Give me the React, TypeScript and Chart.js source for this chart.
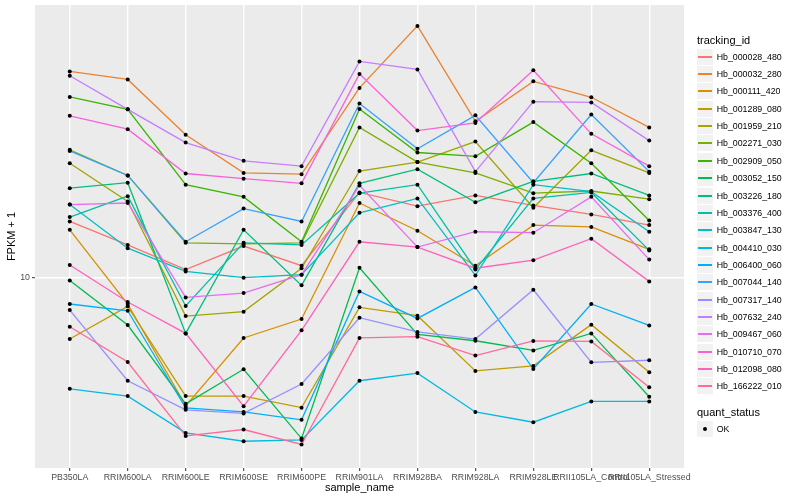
import React, { useEffect, useRef } from "react";
import { Chart, registerables } from "chart.js";

Chart.register(...registerables);

const sampleNames = [
  "PB350LA", "RRIM600LA", "RRIM600LE", "RRIM600SE", "RRIM600PE", "RRIM901LA",
  "RRIM928BA", "RRIM928LA", "RRIM928LE", "RRII105LA_Control", "RRII105LA_Stressed",
];

const trackingIds = [
  "Hb_000028_480", "Hb_000032_280", "Hb_000111_420", "Hb_001289_080", "Hb_001959_210",
  "Hb_002271_030", "Hb_002909_050", "Hb_003052_150", "Hb_003226_180", "Hb_003376_400",
  "Hb_003847_130", "Hb_004410_030", "Hb_006400_060", "Hb_007044_140", "Hb_007317_140",
  "Hb_007632_240", "Hb_009467_060", "Hb_010710_070", "Hb_012098_080", "Hb_166222_010",
];

// FPKM + 1 per sample (order of sampleNames)
const hb_000028_480 = [15.1, 12.7, 10.6, 12.6, 10.9, 18.7, 16.9, 18.3, 17.0, 15.9, 14.7];
const hb_000032_280 = [45.6, 43.0, 28.6, 21.6, 21.4, 40.4, 63.8, 31.6, 42.4, 37.7, 30.2];
const hb_000111_420 = [14.2, 8.22, 3.88, 6.40, 7.36, 17.3, 14.1, 10.9, 14.7, 14.5, 12.3];
const hb_001289_080 = [6.35, 8.08, 4.17, 4.17, 3.83, 8.02, 7.54, 5.02, 5.21, 7.06, 4.97];
const hb_001959_210 = [23.2, 17.5, 7.52, 7.77, 10.7, 21.9, 23.4, 27.2, 16.7, 25.5, 21.6];
const hb_002271_030 = [25.6, 21.2, 12.9, 12.8, 12.9, 30.2, 23.4, 21.6, 18.6, 18.9, 17.8];
const hb_002909_050 = [37.8, 34.5, 19.8, 18.1, 13.0, 34.6, 25.1, 24.4, 31.4, 23.2, 15.2];
const hb_003052_150 = [9.78, 7.04, 3.94, 5.08, 3.05, 10.74, 6.57, 6.27, 5.84, 6.62, 4.15];
const hb_003226_180 = [19.3, 20.1, 6.62, 14.2, 9.43, 20.0, 22.2, 17.4, 20.3, 21.5, 18.3];
const hb_003376_400 = [15.6, 18.2, 8.10, 12.9, 12.7, 18.6, 19.8, 10.6, 17.9, 18.7, 12.2];
const hb_003847_130 = [17.1, 12.4, 10.45, 9.98, 10.2, 16.1, 17.9, 10.15, 19.8, 18.8, 14.0];
const hb_004410_030 = [4.40, 4.17, 3.18, 2.99, 3.02, 4.67, 4.94, 3.71, 3.44, 4.01, 4.01];
const hb_006400_060 = [8.22, 7.82, 3.82, 3.71, 3.50, 9.02, 7.39, 9.29, 5.09, 8.22, 7.02];
const hb_007044_140 = [25.4, 21.2, 13.0, 16.6, 15.1, 36.0, 25.8, 33.0, 20.1, 33.2, 21.8];
const hb_007317_140 = [7.86, 4.67, 3.77, 3.67, 4.56, 7.43, 6.69, 6.35, 9.13, 5.35, 5.43];
const hb_007632_240 = [44.2, 34.5, 27.0, 23.6, 22.7, 49.1, 46.3, 21.8, 36.5, 36.3, 27.4];
const hb_009467_060 = [17.1, 17.3, 8.63, 8.91, 10.2, 19.7, 12.5, 14.0, 13.9, 18.1, 11.4];
const hb_010710_070 = [32.9, 29.8, 21.5, 20.7, 20.0, 44.8, 29.5, 31.2, 46.0, 28.8, 22.7];
const hb_012098_080 = [10.96, 8.34, 6.62, 3.87, 6.77, 13.0, 12.5, 10.7, 11.35, 13.3, 9.71];
const hb_166222_010 = [6.95, 5.36, 3.11, 3.26, 2.92, 6.40, 6.46, 5.62, 6.26, 6.24, 4.45];

const seriesValues = [
  hb_000028_480, hb_000032_280, hb_000111_420, hb_001289_080, hb_001959_210,
  hb_002271_030, hb_002909_050, hb_003052_150, hb_003226_180, hb_003376_400,
  hb_003847_130, hb_004410_030, hb_006400_060, hb_007044_140, hb_007317_140,
  hb_007632_240, hb_009467_060, hb_010710_070, hb_012098_080, hb_166222_010,
];

const yTickValues = [10];
const yMin = 2.455;
const yMax = 74.42;

const quantStatus = ["OK"];

const palette = [
  "#F8766D", "#EA8331", "#D89000", "#C09B00", "#A3A500",
  "#7CAE00", "#39B600", "#00BB4E", "#00BF7D", "#00C1A3",
  "#00BFC4", "#00BAE0", "#00B0F6", "#35A2FF", "#9590FF",
  "#C77CFF", "#E76BF3", "#FA62DB", "#FF62BC", "#FF6A98",
];

const FONT = "'Liberation Sans', Arial, Helvetica, sans-serif";

const panelBg = {
  id: "panelBg",
  beforeDraw(chart: any) {
    const { ctx, chartArea } = chart;
    ctx.save();
    ctx.fillStyle = "#EBEBEB";
    ctx.fillRect(chartArea.left, chartArea.top, chartArea.right - chartArea.left, chartArea.bottom - chartArea.top);
    ctx.restore();
  },
};

const pointsOnTop = {
  id: "pointsOnTop",
  afterDatasetsDraw(chart: any) {
    const { ctx } = chart;
    ctx.save();
    ctx.fillStyle = "#000000";
    chart.data.datasets.forEach((_: any, i: number) => {
      const meta = chart.getDatasetMeta(i);
      meta.data.forEach((el: any) => {
        ctx.beginPath();
        ctx.arc(el.x, el.y, 2.0, 0, Math.PI * 2);
        ctx.fill();
      });
    });
    ctx.restore();
  },
};

export default function App() {
  const canvasRef = useRef<HTMLCanvasElement | null>(null);

  useEffect(() => {
    if (!canvasRef.current) return;
    const n = seriesValues.length;
    const chart = new Chart(canvasRef.current, {
      type: "line",
      data: {
        datasets: seriesValues.map((vals, i) => ({
          label: trackingIds[i],
          data: vals.map((v, k) => ({ x: k, y: v })),
          borderColor: palette[i],
          backgroundColor: palette[i],
          borderWidth: 1.3,
          pointRadius: 0,
          pointHoverRadius: 0,
          tension: 0,
          fill: false,
          order: n - i,
        })),
      },
      options: {
        animation: false,
        responsive: false,
        devicePixelRatio: 1,
        events: [],
        layout: { padding: { top: 5, right: 116, bottom: 0, left: 0 } },
        plugins: { legend: { display: false }, tooltip: { enabled: false }, title: { display: false } },
        scales: {
          x: {
            type: "linear",
            min: -0.6,
            max: sampleNames.length - 1 + 0.6,
            afterBuildTicks: (s: any) => {
              s.ticks = sampleNames.map((_, i) => ({ value: i }));
            },
            afterFit: (s: any) => {
              s.height = 32;
              s.paddingLeft = 0;
              s.paddingRight = 0;
            },
            ticks: {
              autoSkip: false,
              maxRotation: 0,
              minRotation: 0,
              padding: 1,
              color: "#4D4D4D",
              font: { family: FONT, size: 8.8 },
              callback: (v: any) => sampleNames[v as number] ?? "",
            },
            grid: { color: "#FFFFFF", lineWidth: 1.4, tickLength: 3, tickColor: "#333333", tickWidth: 1 },
            border: { display: false },
            title: {
              display: true,
              text: "sample_name",
              color: "#000000",
              font: { family: FONT, size: 11 },
              padding: { top: 0, bottom: 5.4 },
            },
          },
          y: {
            type: "logarithmic",
            min: yMin,
            max: yMax,
            afterBuildTicks: (s: any) => {
              s.ticks = yTickValues.map((v) => ({ value: v }));
            },
            afterFit: (s: any) => {
              s.width = 35;
              s.paddingTop = 0;
              s.paddingBottom = 0;
            },
            ticks: {
              padding: 2,
              color: "#4D4D4D",
              font: { family: FONT, size: 8.8 },
              callback: (v: any) => String(v),
            },
            grid: { color: "#FFFFFF", lineWidth: 1.4, tickLength: 3, tickColor: "#333333", tickWidth: 1 },
            border: { display: false },
            title: {
              display: true,
              text: "FPKM + 1",
              color: "#000000",
              font: { family: FONT, size: 11 },
              padding: { top: 5.4, bottom: 0 },
            },
          },
        },
      },
      plugins: [panelBg, pointsOnTop],
    } as any);
    return () => chart.destroy();
  }, []);

  const legendLeft = 697;
  const firstKeyCenter = 56.7;
  const keyStep = 17.35;
  const keySize = 17;

  return (
    <div style={{ position: "absolute", left: 0, top: 0, width: 800, height: 500, background: "#FFFFFF", fontFamily: FONT }}>
      <canvas ref={canvasRef} width={800} height={500} style={{ position: "absolute", left: 0, top: 0, width: 800, height: 500 }} />
      <div style={{ position: "absolute", left: legendLeft, top: 34, fontSize: 11, lineHeight: "13px", color: "#000", whiteSpace: "nowrap" }}>
        tracking_id
      </div>
      {trackingIds.map((id, i) => {
        const cy = Math.round(firstKeyCenter + i * keyStep);
        return (
          <div key={id}>
            <div style={{ position: "absolute", left: legendLeft, top: cy - 8, width: 16, height: 16, background: "#F2F2F2" }} />
            <div style={{ position: "absolute", left: legendLeft + 1, top: cy - 1, width: 14, height: 2, background: palette[i] }} />
            <div style={{ position: "absolute", left: 716.7, top: cy - 5.5, fontSize: 8.8, lineHeight: "11px", color: "#000", whiteSpace: "nowrap" }}>
              {id}
            </div>
          </div>
        );
      })}
      <div style={{ position: "absolute", left: legendLeft, top: 405.5, fontSize: 11, lineHeight: "13px", color: "#000", whiteSpace: "nowrap" }}>
        quant_status
      </div>
      {quantStatus.map((q, i) => {
        const cy = Math.round(429 + i * keyStep);
        return (
          <div key={q}>
            <div style={{ position: "absolute", left: legendLeft, top: cy - 8, width: 16, height: 16, background: "#F2F2F2" }} />
            <div style={{ position: "absolute", left: legendLeft + 6, top: cy - 2, width: 4, height: 4, borderRadius: 2, background: "#000" }} />
            <div style={{ position: "absolute", left: 716.7, top: cy - 5.5, fontSize: 8.8, lineHeight: "11px", color: "#000", whiteSpace: "nowrap" }}>
              {q}
            </div>
          </div>
        );
      })}
    </div>
  );
}
